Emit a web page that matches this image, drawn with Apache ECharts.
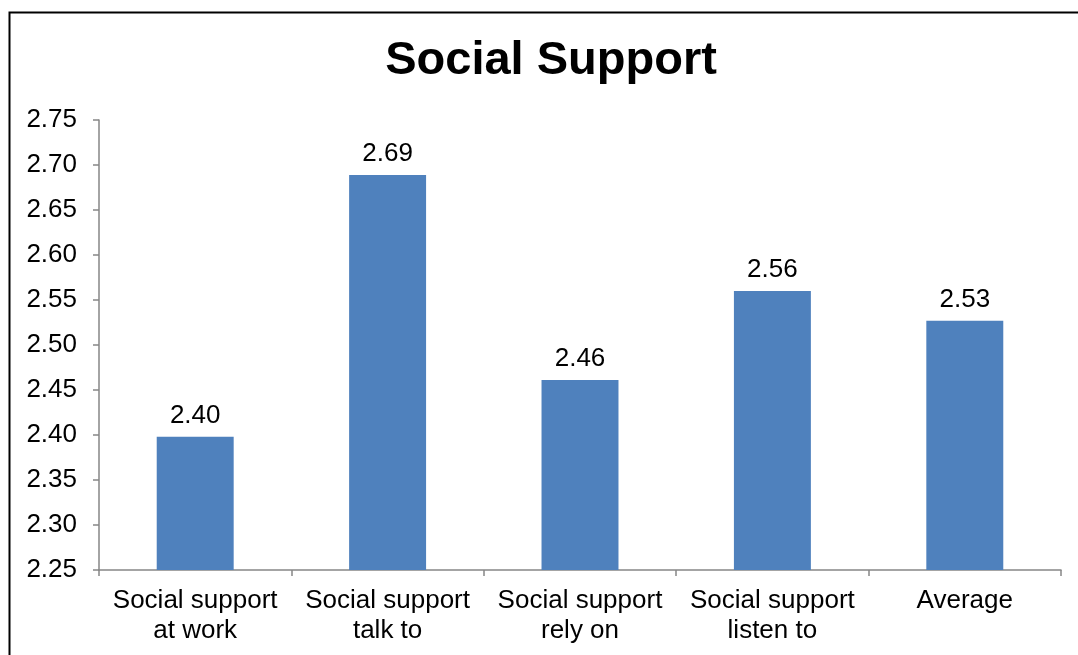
<!DOCTYPE html>
<html>
<head>
<meta charset="utf-8">
<script src="https://cdn.jsdelivr.net/npm/echarts@6/dist/echarts.min.js"></script>
<style>
html,body{margin:0;padding:0;background:#fff;}
#chart{width:1078px;height:655px;}
</style>
</head>
<body>
<div id="chart"></div>
<script>
const categories = ["Social support\nat work", "Social support\ntalk to", "Social support\nrely on", "Social support\nlisten to", "Average"];
const values = [2.398, 2.689, 2.461, 2.560, 2.527];
const yMin = 2.25, yMax = 2.75, yStep = 0.05;

const chart = echarts.init(document.getElementById('chart'), null, {renderer: 'canvas'});
const font = '"Liberation Sans", Arial, sans-serif';
chart.setOption({
  animation: false,
  backgroundColor: '#ffffff',
  title: {
    text: 'Social Support',
    left: 546, top: 33,
    textAlign: 'center',
    textStyle: {fontFamily: font, fontSize: 47, fontWeight: 'bold', color: '#000'}
  },
  graphic: [{
    type: 'rect', left: 7, top: 10,
    shape: {width: 1200, height: 800},
    style: {fill: 'none', stroke: '#000', lineWidth: 2},
    silent: true
  }],
  grid: {left: 99, right: 17, top: 120, bottom: 85, containLabel: false},
  xAxis: {
    type: 'category',
    data: categories,
    boundaryGap: true,
    axisLine: {lineStyle: {color: '#868686', width: 1.5}},
    axisTick: {show: true, alignWithLabel: false, length: 6, lineStyle: {color: '#868686', width: 1.5}},
    axisLabel: {fontFamily: font, fontSize: 26, color: '#000', lineHeight: 30, margin: 16, interval: 0}
  },
  yAxis: {
    type: 'value',
    min: yMin, max: yMax, interval: yStep,
    splitLine: {show: false},
    axisLine: {show: true, lineStyle: {color: '#868686', width: 1.5}},
    axisTick: {show: true, length: 6, lineStyle: {color: '#868686', width: 1.5}},
    axisLabel: {fontFamily: font, fontSize: 26, color: '#000', margin: 22,
      formatter: v => v.toFixed(2)}
  },
  series: [{
    type: 'bar',
    data: values,
    barWidth: '40%',
    itemStyle: {color: '#4F81BD'},
    label: {
      show: true, position: 'top', distance: 8,
      fontFamily: font, fontSize: 26, color: '#000',
      formatter: p => p.value.toFixed(2)
    }
  }]
});
</script>
</body>
</html>
